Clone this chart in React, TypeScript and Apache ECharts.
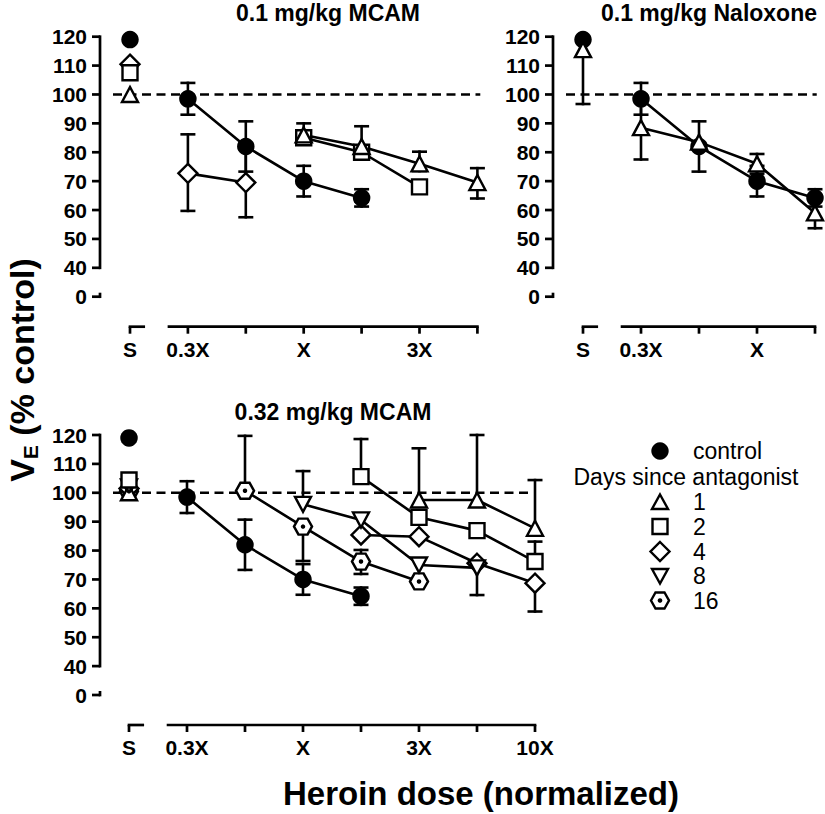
import React, { useEffect, useRef } from 'react';
import * as echarts from 'echarts';

// ---------- tick labels ----------
const TOP_LEFT_TICKS = ['S', '0.3X', '', 'X', '', '3X', ''];
const TOP_RIGHT_TICKS = ['S', '0.3X', '', 'X', ''];
const BOTTOM_TICKS = ['S', '0.3X', '', 'X', '', '3X', '', '10X'];
const Y_TICK_VALUES = [30, 40, 50, 60, 70, 80, 90, 100, 110, 120]; // 30 is drawn as the broken-axis "0"

// ---------- control (same in every panel); dose positions 1..4 ----------
const CONTROL_S = 119;
const CONTROL = [98.5, 82, 70, 64.2];
const CONTROL_ERR = [5.5, 8.7, 5.3, 3];

// ---------- panel A: 0.1 mg/kg MCAM (dose positions 1..6) ----------
const A_S = [100, 107.5, 110.5]; // day 1, day 2, day 4 at saline
const A_DAY1 = [null, null, 86, 82, 76, 69.5];
const A_DAY1_UP = [0, 0, 4, 7, 4.2, 5];
const A_DAY1_DN = [0, 0, 0, 0, 2.5, 5.5];
const A_DAY2 = [null, null, 85, 80, 68, null];
const A_DAY2_DN = [0, 0, 0, 2.5, 0, 0];
const A_DAY4 = [72.7, 69.5, null, null, null, null];
const A_DAY4_UP = [13.5, 12, 0, 0, 0, 0];
const A_DAY4_DN = [13, 12, 0, 0, 0, 0];

// ---------- panel B: 0.1 mg/kg Naloxone (dose positions 1..4) ----------
const B_S_DAY1 = 115.5;
const B_S_DAY1_DN = 18.8;
const B_DAY1 = [88.5, 83.5, 76, 59];
const B_DAY1_ERR = [11, 0, 3.4, 5.3];

// ---------- panel C: 0.32 mg/kg MCAM (dose positions 1..7) ----------
const C_S = [100, 104.4, 101.5, 102, 100.5]; // day 1, 2, 4, 8, 16 at saline
const C_DAY1 = [null, null, null, null, 97.5, 97.5, 87.7];
const C_DAY1_UP = [0, 0, 0, 0, 17.9, 22.5, 16.7];
const C_DAY2 = [null, null, null, 105.6, 91.5, 86.9, 76.2];
const C_DAY2_UP = [0, 0, 0, 13, 0, 0, 6.9];
const C_DAY4 = [null, null, null, 85.4, 84.8, 75.6, 68.7];
const C_DAY4_DN = [0, 0, 0, 0, 0, 0, 9.8];
const C_DAY8 = [null, null, 96, 90.6, 75, 74, null];
const C_DAY8_UP = [0, 0, 11.5, 0, 0, 0, 0];
const C_DAY8_DN = [0, 0, 0, 0, 0, 9.4, 0];
const C_DAY16 = [null, 100.7, 88.3, 76.2, 69.3, null, null];
const C_DAY16_UP = [0, 19, 0, 4, 0, 0, 0];
const C_DAY16_DN = [0, 0, 11.9, 4.3, 0, 0, 0];

const LEGEND_LABELS = ['1', '2', '4', '8', '16'];

const FONT = '"Liberation Sans", Arial, Helvetica, sans-serif';
const LW = 2.6;
const BW = 2.4; // symbol outline width
const AW = 2.7; // axis line width
const HEX = 'path://M0,5 L2.887,0 L8.66,0 L11.547,5 L8.66,10 L2.887,10 Z';

type Sym = { symbol: string; size: number | number[]; rotate?: number; filled?: boolean; dot?: boolean };
const SYM_CONTROL: Sym = { symbol: 'circle', size: 17.5, filled: true };
const SYM_D1: Sym = { symbol: 'triangle', size: [16, 15] };
const SYM_D2: Sym = { symbol: 'rect', size: 15 };
const SYM_D4: Sym = { symbol: 'diamond', size: [19, 19] };
const SYM_D8: Sym = { symbol: 'triangle', size: [16, 15], rotate: 180 };
const SYM_D16: Sym = { symbol: HEX, size: [18, 16], dot: true };

const zeros = (n: number) => new Array(n).fill(0);

function buildGroup(
  grid: number,
  sym: Sym,
  sVal: number | null,
  sUp: number,
  sDn: number,
  vals: (number | null)[],
  up: number[],
  dn: number[]
): any[] {
  const pts: number[][] = [];
  if (sVal != null) pts.push([0, sVal, sUp, sDn]);
  const linePts: number[][] = [];
  vals.forEach((v, i) => {
    if (v != null) {
      pts.push([i + 1, v, up[i] || 0, dn[i] || 0]);
      linePts.push([i + 1, v]);
    }
  });
  const itemStyle = sym.filled
    ? { color: '#000', borderColor: '#000', borderWidth: 0, opacity: 1 }
    : { color: '#fff', borderColor: '#000', borderWidth: BW, opacity: 1 };
  const out: any[] = [];
  out.push({
    type: 'custom',
    xAxisIndex: grid,
    yAxisIndex: grid,
    silent: true,
    z: 2,
    clip: false,
    data: pts.filter((p) => p[2] > 0 || p[3] > 0),
    encode: { x: 0, y: 1 },
    renderItem: (params: any, api: any) => {
      const x = api.value(0);
      const y = api.value(1);
      const u = api.value(2);
      const d = api.value(3);
      const c = api.coord([x, y]);
      const t = api.coord([x, y + u]);
      const b = api.coord([x, y - d]);
      const h = LW / 2;
      const ch: any[] = [
        { type: 'rect', shape: { x: c[0] - h, y: t[1] - h, width: LW, height: b[1] - t[1] + LW }, style: { fill: '#000' } },
      ];
      if (u > 0) ch.push({ type: 'rect', shape: { x: c[0] - 7.5, y: t[1] - h, width: 15, height: LW }, style: { fill: '#000' } });
      if (d > 0) ch.push({ type: 'rect', shape: { x: c[0] - 7.5, y: b[1] - h, width: 15, height: LW }, style: { fill: '#000' } });
      return { type: 'group', children: ch };
    },
  });
  out.push({
    type: 'line',
    xAxisIndex: grid,
    yAxisIndex: grid,
    silent: true,
    z: 3,
    data: linePts,
    symbol: sym.symbol,
    symbolSize: sym.size,
    symbolRotate: sym.rotate || 0,
    showSymbol: true,
    itemStyle,
    lineStyle: { color: '#000', width: LW, opacity: 1 },
  });
  if (sVal != null) {
    out.push({
      type: 'scatter',
      xAxisIndex: grid,
      yAxisIndex: grid,
      silent: true,
      z: 3,
      data: [[0, sVal]],
      symbol: sym.symbol,
      symbolSize: sym.size,
      symbolRotate: sym.rotate || 0,
      itemStyle,
    });
  }
  if (sym.dot) {
    out.push({
      type: 'scatter',
      xAxisIndex: grid,
      yAxisIndex: grid,
      silent: true,
      z: 4,
      data: pts.map((p) => [p[0], p[1]]),
      symbol: 'circle',
      symbolSize: 4.5,
      itemStyle: { color: '#000', opacity: 1 },
    });
  }
  return out;
}

function axisFrame(grid: number, maxX: number, yOff: number, xOff: number, dashEnd: number) {
  return {
    type: 'custom',
    xAxisIndex: grid,
    yAxisIndex: grid,
    silent: true,
    z: 1,
    clip: false,
    data: [[0, 30]],
    encode: { x: 0, y: 1 },
    renderItem: (params: any, api: any) => {
      const p = (x: number, y: number) => api.coord([x, y]);
      const o = p(0, 30);
      const ax = o[0] - yOff;
      const top = p(0, 120)[1];
      const y40 = p(0, 40)[1];
      const xy = o[1] + xOff;
      const dashY = p(0, 100)[1];
      const h = AW / 2;
      const fill = { fill: '#000' };
      const ch: any[] = [
        // y axis: main segment 40..120 and the short stub at the broken "0"
        { type: 'rect', shape: { x: ax - h, y: top - h, width: AW, height: y40 - top + AW }, style: fill },
        { type: 'rect', shape: { x: ax - h, y: o[1] - 4, width: AW, height: 4 + h }, style: fill },
        // x axis: saline stub and dose segment
        { type: 'rect', shape: { x: o[0] - h, y: xy - h, width: p(0.26, 30)[0] - o[0] + h, height: AW }, style: fill },
        {
          type: 'rect',
          shape: { x: p(0.65, 30)[0], y: xy - h, width: p(maxX, 30)[0] + h - p(0.65, 30)[0], height: AW },
          style: fill,
        },
        {
          type: 'line',
          shape: { x1: ax + 13, y1: dashY, x2: p(dashEnd, 100)[0], y2: dashY },
          style: { stroke: '#000', lineWidth: 2.5, lineDash: [9, 5.5] },
        },
      ];
      Y_TICK_VALUES.forEach((v) => {
        const yy = p(0, v)[1];
        ch.push({ type: 'rect', shape: { x: ax - 8, y: yy - h, width: 8, height: AW }, style: fill });
      });
      for (let i = 0; i <= maxX; i++) {
        const xx = p(i, 30)[0];
        ch.push({ type: 'rect', shape: { x: xx - h, y: xy, width: AW, height: 7 }, style: fill });
      }
      return { type: 'group', children: ch };
    },
  };
}

function xAxisCfg(grid: number, max: number, labels: string[]) {
  return {
    type: 'value',
    gridIndex: grid,
    min: 0,
    max,
    interval: 1,
    offset: 30,
    axisLine: { show: false },
    axisTick: { show: false },
    splitLine: { show: false },
    axisLabel: {
      color: '#000',
      fontSize: 21,
      fontWeight: 'bold',
      fontFamily: FONT,
      margin: 12,
      formatter: (v: number) => labels[Math.round(v)] ?? '',
    },
  };
}

function yAxisCfg(grid: number, off: number) {
  return {
    type: 'value',
    gridIndex: grid,
    min: 30,
    max: 120,
    interval: 10,
    offset: off,
    axisLine: { show: false },
    axisTick: { show: false },
    splitLine: { show: false },
    axisLabel: {
      color: '#000',
      fontSize: 21,
      fontWeight: 'bold',
      fontFamily: FONT,
      margin: 13,
      formatter: (v: number) => (v === 30 ? '0' : String(v)),
    },
  };
}

function legendSymbol(kind: string, cx: number, cy: number): any[] {
  const st = { fill: '#fff', stroke: '#000', lineWidth: BW };
  if (kind === 'circle') return [{ type: 'circle', shape: { cx, cy, r: 8.7 }, style: { fill: '#000' } }];
  if (kind === 'tri')
    return [{ type: 'polygon', shape: { points: [[cx, cy - 7.5], [cx + 8, cy + 7], [cx - 8, cy + 7]] }, style: st }];
  if (kind === 'rect') return [{ type: 'rect', shape: { x: cx - 7.5, y: cy - 7.5, width: 15, height: 15 }, style: st }];
  if (kind === 'dia')
    return [{ type: 'polygon', shape: { points: [[cx, cy - 9.5], [cx + 9.5, cy], [cx, cy + 9.5], [cx - 9.5, cy]] }, style: st }];
  if (kind === 'dtri')
    return [{ type: 'polygon', shape: { points: [[cx - 8, cy - 7], [cx + 8, cy - 7], [cx, cy + 7.5]] }, style: st }];
  return [
    {
      type: 'polygon',
      shape: {
        points: [[cx - 9, cy], [cx - 4.5, cy - 8], [cx + 4.5, cy - 8], [cx + 9, cy], [cx + 4.5, cy + 8], [cx - 4.5, cy + 8]],
      },
      style: st,
    },
    { type: 'circle', shape: { cx, cy, r: 2.3 }, style: { fill: '#000' } },
  ];
}

export default function App() {
  const ref = useRef<HTMLDivElement>(null);
  useEffect(() => {
    if (!ref.current) return;
    const chart = echarts.init(ref.current, null, { renderer: 'svg' });

    const series: any[] = [
      axisFrame(0, 6, 30, 30, 6.05),
      axisFrame(1, 4, 30, 30, 4.03),
      axisFrame(2, 7, 29, 30, 6.9),
      // panel A
      ...buildGroup(0, SYM_D4, A_S[2], 0, 0, A_DAY4, A_DAY4_UP, A_DAY4_DN),
      ...buildGroup(0, SYM_D2, A_S[1], 0, 0, A_DAY2, zeros(6), A_DAY2_DN),
      ...buildGroup(0, SYM_D1, A_S[0], 0, 0, A_DAY1, A_DAY1_UP, A_DAY1_DN),
      ...buildGroup(0, SYM_CONTROL, CONTROL_S, 0, 0, CONTROL, CONTROL_ERR, CONTROL_ERR),
      // panel B
      ...buildGroup(1, SYM_CONTROL, CONTROL_S, 0, 0, CONTROL, CONTROL_ERR, CONTROL_ERR),
      ...buildGroup(1, SYM_D1, B_S_DAY1, 0, B_S_DAY1_DN, B_DAY1, B_DAY1_ERR, B_DAY1_ERR),
      // panel C
      ...buildGroup(2, SYM_D16, C_S[4], 0, 0, C_DAY16, C_DAY16_UP, C_DAY16_DN),
      ...buildGroup(2, SYM_D4, C_S[2], 0, 0, C_DAY4, zeros(7), C_DAY4_DN),
      ...buildGroup(2, SYM_D8, C_S[3], 0, 0, C_DAY8, C_DAY8_UP, C_DAY8_DN),
      ...buildGroup(2, SYM_D1, C_S[0], 0, 0, C_DAY1, C_DAY1_UP, zeros(7)),
      ...buildGroup(2, SYM_D2, C_S[1], 0, 0, C_DAY2, C_DAY2_UP, zeros(7)),
      ...buildGroup(2, SYM_CONTROL, CONTROL_S, 0, 0, CONTROL, CONTROL_ERR, CONTROL_ERR),
    ];

    const txt = (text: string, x: number, y: number, size: number, bold: boolean, align = 'center') => ({
      type: 'text',
      x,
      y,
      silent: true,
      style: {
        text,
        fill: '#000',
        font: `${bold ? 'bold ' : ''}${size}px ${FONT}`,
        fontSize: size,
        fontWeight: bold ? 'bold' : 'normal',
        fontFamily: FONT,
        align,
        textAlign: align,
        verticalAlign: 'middle',
        textVerticalAlign: 'middle',
      },
    });

    const legendKinds = ['tri', 'rect', 'dia', 'dtri', 'hex'];
    const legendY = [502, 526.5, 551.5, 576, 600.5];
    const graphic: any[] = [
      txt('0.1 mg/kg MCAM', 328, 13, 23, true),
      txt('0.1 mg/kg Naloxone', 709, 13, 23, true),
      txt('0.32 mg/kg MCAM', 333, 412, 23, true),
      txt('Heroin dose (normalized)', 481, 793, 33, true),
      {
        type: 'text',
        x: 22,
        y: 370,
        rotation: Math.PI / 2,
        silent: true,
        style: {
          text: '{a|V}{b|E}{a| (% control)}',
          align: 'center',
          textAlign: 'center',
          verticalAlign: 'middle',
          textVerticalAlign: 'middle',
          rich: {
            a: { fontSize: 34, fontWeight: 'bold', fontFamily: FONT, fill: '#000', color: '#000', lineHeight: 38 },
            b: {
              fontSize: 21,
              fontWeight: 'bold',
              fontFamily: FONT,
              fill: '#000',
              color: '#000',
              lineHeight: 20,
              verticalAlign: 'bottom',
            },
          },
        },
      },
      ...legendSymbol('circle', 660, 451),
      txt('control', 693, 451, 23, false, 'left'),
      txt('Days since antagonist', 686, 477, 23, false),
    ];
    legendKinds.forEach((k, i) => {
      graphic.push(...legendSymbol(k, 660, legendY[i]));
      graphic.push(txt(LEGEND_LABELS[i], 693, legendY[i], 23, false, 'left'));
    });

    chart.setOption({
      animation: false,
      backgroundColor: '#fff',
      grid: [
        { left: 130, top: 36.7, width: 347.4, height: 260, outerBoundsMode: 'none' },
        { left: 583, top: 36.7, width: 232, height: 260, outerBoundsMode: 'none' },
        { left: 129, top: 435, width: 406, height: 260, outerBoundsMode: 'none' },
      ],
      xAxis: [xAxisCfg(0, 6, TOP_LEFT_TICKS), xAxisCfg(1, 4, TOP_RIGHT_TICKS), xAxisCfg(2, 7, BOTTOM_TICKS)],
      yAxis: [yAxisCfg(0, 30), yAxisCfg(1, 30), yAxisCfg(2, 29)],
      series,
      graphic: { elements: graphic },
    });
    return () => chart.dispose();
  }, []);
  return (
    <div
      ref={ref}
      style={{ position: 'absolute', left: 0, top: 0, width: 825, height: 814, background: '#fff' }}
    />
  );
}
